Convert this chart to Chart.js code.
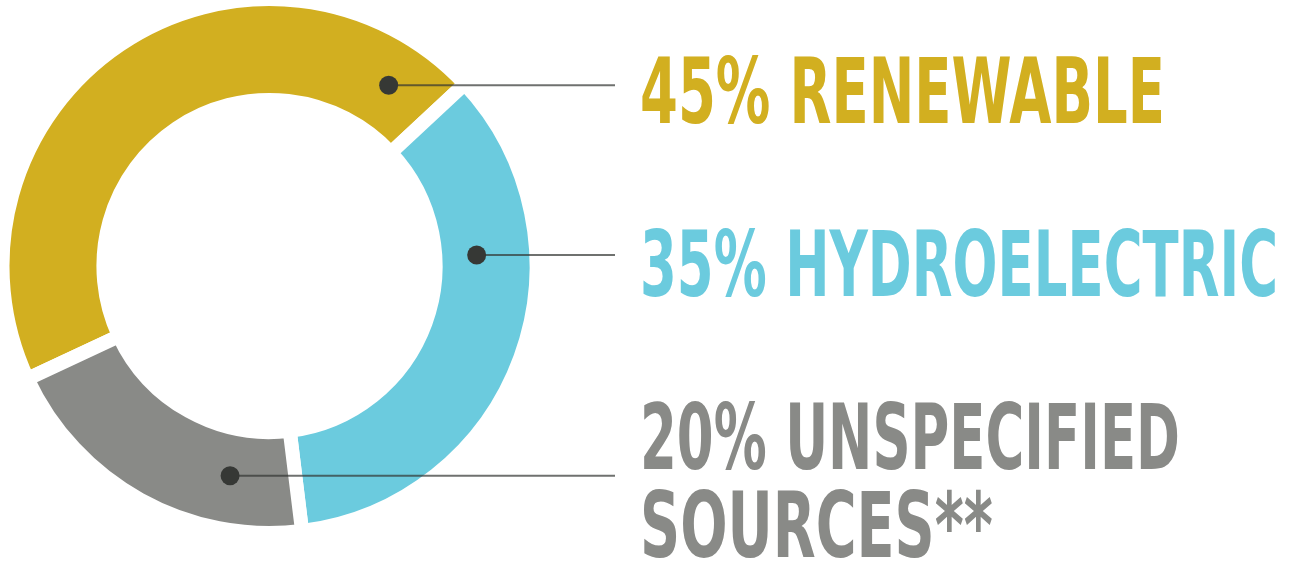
<!DOCTYPE html>
<html>
<head>
<meta charset="utf-8">
<script src="https://cdn.jsdelivr.net/npm/chart.js@4/dist/chart.umd.min.js"></script>
<style>
  html, body { margin: 0; padding: 0; background: #fff; }
  #wrap { width: 1292px; height: 563px; position: relative; }
</style>
</head>
<body>
<div id="wrap"><canvas id="mix"></canvas></div>
<script>
const sources = ['Renewable', 'Hydroelectric', 'Unspecified Sources**'];
const shares = [45, 35, 20];
const labelLines = [['45% RENEWABLE'], ['35% HYDROELECTRIC'], ['20% UNSPECIFIED', 'SOURCES**']];

// dot on the ring, leader line to the right, big label
const calloutPlugin = {
    id: 'callouts',
    afterDatasetsDraw(chart, args, opts) {
        const ctx = chart.ctx;
        const arcs = chart.getDatasetMeta(0).data;
        const fills = chart.data.datasets[0].backgroundColor;
        arcs.forEach((arc, i) => {
            const item = opts.items[i];
            const { x, y, startAngle, endAngle, innerRadius, outerRadius } =
                arc.getProps(['x', 'y', 'startAngle', 'endAngle', 'innerRadius', 'outerRadius'], true);
            const a = startAngle + (endAngle - startAngle) * item.along;
            const r = innerRadius + (outerRadius - innerRadius) * item.depth;
            const px = x + Math.cos(a) * r;
            const py = y + Math.sin(a) * r;

            ctx.save();
            ctx.strokeStyle = 'rgba(50,52,50,0.7)';
            ctx.lineWidth = 2;
            ctx.beginPath();
            ctx.moveTo(px, py);
            ctx.lineTo(opts.lineEnd, py);
            ctx.stroke();

            ctx.fillStyle = '#363835';
            ctx.beginPath();
            ctx.arc(px, py, 9.5, 0, Math.PI * 2);
            ctx.fill();

            ctx.fillStyle = fills[i];
            ctx.font = 'bold 90px "DejaVu Sans", sans-serif';
            ctx.textAlign = 'left';
            ctx.textBaseline = 'alphabetic';
            labelLines[i].forEach((t, k) => {
                ctx.fillText(t, opts.textX, item.baselines[k], item.widths[k]);
            });
            ctx.restore();
        });
    }
};

new Chart(document.getElementById('mix'), {
    type: 'doughnut',
    data: {
        labels: sources,
        datasets: [{
            data: shares,
            backgroundColor: ['#d2af20', '#6bcbde', '#898a87'],
            borderColor: '#ffffff',
            borderWidth: 14,
            radius: 267,
            cutout: '62.2%'
        }]
    },
    options: {
        responsive: true,
        maintainAspectRatio: false,
        animation: false,
        rotation: -115,
        layout: { padding: { left: 0, right: 753, top: 0, bottom: 31 } },
        plugins: {
            legend: { display: false },
            tooltip: { enabled: false },
            callouts: {
                lineEnd: 615,
                textX: 640,
                items: [
                    { along: 0.916, depth: 0.5, baselines: [123], widths: [525] },
                    { along: 0.317, depth: 0.41, baselines: [296], widths: [638] },
                    { along: 0.245, depth: 0.47, baselines: [469, 557], widths: [540, 353] }
                ]
            }
        }
    },
    plugins: [calloutPlugin]
});
</script>
</body>
</html>
